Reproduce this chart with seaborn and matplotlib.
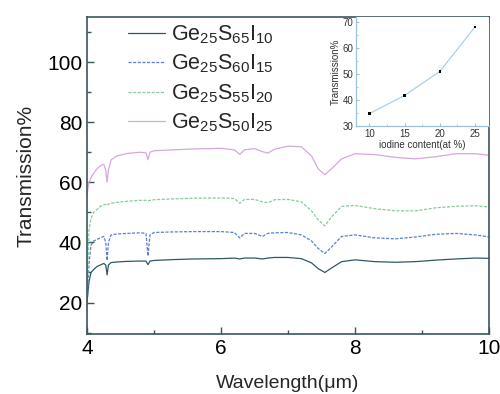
import numpy as np
import pandas as pd
import seaborn as sns
import matplotlib.pyplot as plt
from matplotlib.ticker import MultipleLocator

# wavelength sample points (um), shared by all spectra
wavelength = [4.0, 4.03, 4.06, 4.1, 4.15, 4.2, 4.25, 4.28, 4.3, 4.32, 4.36, 4.45,
              4.6, 4.8, 4.88, 4.91, 4.94, 5.0, 5.3, 5.6, 6.0, 6.2, 6.28, 6.35,
              6.5, 6.62, 6.7, 6.8, 7.0, 7.2, 7.35, 7.45, 7.55, 7.65, 7.8, 8.0,
              8.3, 8.6, 8.9, 9.2, 9.5, 9.8, 10.0]

t_i10 = [20, 27, 30, 31, 32, 32.5, 33, 32.5, 29.2, 32.5, 33.3, 33.5,
         33.7, 33.8, 33.8, 32.6, 33.8, 34, 34.3, 34.5, 34.6, 34.8, 34.5, 34.8,
         34.8, 34.5, 34.8, 35, 35, 34.6, 33.2, 31.3, 30.0, 31.5, 33.6, 34.2,
         33.6, 33.4, 33.6, 34.1, 34.5, 34.8, 34.7]

t_i15 = [19, 33, 39, 40.5, 41, 41.5, 42, 40, 34, 40, 42.5, 42.8,
         43, 43.2, 43, 35.5, 42.5, 43.3, 43.5, 43.6, 43.6, 43.3, 41.5, 43,
         43, 42, 43, 43.2, 43.3, 42.5, 40.5, 38, 36.3, 38.5, 42, 42.5,
         41.5, 41.2, 41.8, 42.7, 43, 42.5, 41.8]

t_i20 = [22, 44, 48, 50, 51, 52, 52.5, 52.7, 52.3, 52.8, 53, 53.3,
         53.7, 54, 54, 53.8, 54, 54.2, 54.5, 54.7, 54.8, 54.6, 53, 54.3,
         54.3, 53.5, 53.2, 54.2, 54.3, 53.5, 50.5, 47.5, 45.5, 48.5, 52, 52.3,
         51.2, 50.5, 50.5, 51.5, 52, 52.2, 51.8]

t_i25 = [56, 60, 61.5, 63, 64.5, 65.5, 66, 64, 60, 64, 67.5, 68.8,
         69.6, 70, 69.8, 67.5, 70, 70.5, 70.8, 71.1, 71.3, 70.8, 69.3, 70.8,
         71.2, 70.2, 69.7, 71, 72, 71.8, 68.8, 64.5, 62.5, 64.5, 67.8, 69.5,
         69.2, 68.3, 67.8, 68.5, 69.5, 69.5, 69]

labels = [r'Ge$_{25}$S$_{65}$I$_{10}$', r'Ge$_{25}$S$_{60}$I$_{15}$',
          r'Ge$_{25}$S$_{55}$I$_{20}$', r'Ge$_{25}$S$_{50}$I$_{25}$']

# inset: transmission vs iodine content
iodine = [10, 15, 20, 25]
trans_inset = [34.8, 41.8, 51.0, 68.1]

sns.set_style('ticks')
plt.rcParams['font.family'] = ['Liberation Sans', 'DejaVu Sans']
plt.rcParams['mathtext.fontset'] = 'custom'
plt.rcParams['mathtext.rm'] = 'Liberation Sans'
plt.rcParams['mathtext.default'] = 'regular'

spine_col = '#3a5658'
colors = ['#2f5866', '#5b7fd2', '#86cc9c', '#d8a6e0']
styles = ['-', (0, (2.5, 1.2)), (0, (2.5, 1.2)), '-']

fig = plt.figure(figsize=(5.0, 3.94), dpi=100)
ax = fig.add_axes([0.174, 0.152, 0.804, 0.805])

for vals, lab, c, ls in zip([t_i10, t_i15, t_i20, t_i25], labels, colors, styles):
    sns.lineplot(x=wavelength, y=vals, ax=ax, color=c, linestyle=ls,
                 linewidth=0.9, label=lab)

ax.set_xlim(4, 10)
ax.set_ylim(9.5, 115)
ax.xaxis.set_major_locator(MultipleLocator(2))
ax.xaxis.set_minor_locator(MultipleLocator(1))
ax.yaxis.set_major_locator(MultipleLocator(20))
ax.yaxis.set_minor_locator(MultipleLocator(10))
ax.tick_params(which='both', direction='in', colors=spine_col, labelcolor='black',
               labelsize=15, width=1.0)
ax.tick_params(which='major', length=5)
ax.tick_params(which='minor', length=3)
for s in ax.spines.values():
    s.set_color(spine_col)
    s.set_linewidth(1.2)
ax.set_xlabel('Wavelength(μm)', fontsize=14, labelpad=12)
ax.set_ylabel('Transmission%', fontsize=15, labelpad=8)

ax.legend(loc='upper left', bbox_to_anchor=(0.102, 0.98), frameon=False,
          borderpad=0, borderaxespad=0,
          fontsize=15.5, handlelength=1.7, handletextpad=0.3, labelspacing=0.32)

# inset
ins = fig.add_axes([0.712, 0.680, 0.266, 0.277])
sns.lineplot(x=iodine, y=trans_inset, ax=ins, color='#a9d0ea', linewidth=0.9)
sns.scatterplot(x=iodine, y=trans_inset, ax=ins, color='black', marker='s', s=3,
                edgecolor='none', zorder=3)
ins.set_xlim(8.1, 27)
ins.set_ylim(30, 72)
ins.xaxis.set_major_locator(MultipleLocator(5))
ins.yaxis.set_major_locator(MultipleLocator(10))
ins.xaxis.set_minor_locator(MultipleLocator(2.5))
ins.yaxis.set_minor_locator(MultipleLocator(5))
ins.tick_params(which='both', direction='in', labelsize=7, pad=2,
                colors='#9cc3dc', labelcolor='#333333')
ins.tick_params(which='major', length=2.5)
ins.tick_params(which='minor', length=1.5)
for side in ['left', 'bottom']:
    ins.spines[side].set_color('#9cc3dc')
    ins.spines[side].set_linewidth(0.9)
for side in ['top', 'right']:
    ins.spines[side].set_visible(False)
ins.set_xlabel('iodine content(at %)', fontsize=7, labelpad=1, color='#333333')
ins.set_ylabel('Transmission%', fontsize=7, labelpad=1, color='#333333')

plt.savefig('out.png', dpi=100)
